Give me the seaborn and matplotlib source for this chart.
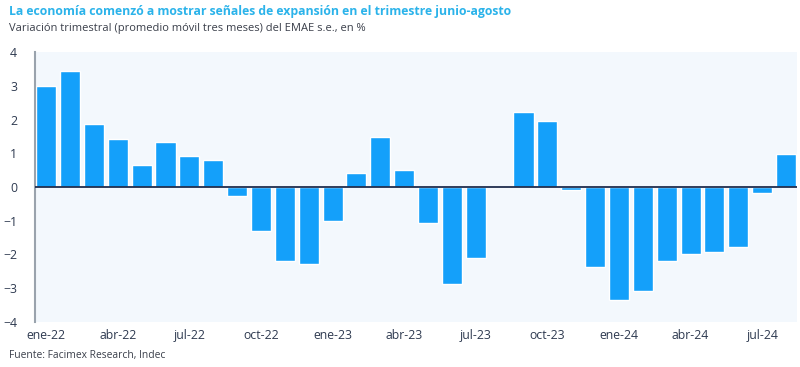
import pandas as pd
import seaborn as sns
import matplotlib.pyplot as plt

# Monthly data, ene-22 .. ago-24
meses = ["ene-22", "feb-22", "mar-22", "abr-22", "may-22", "jun-22", "jul-22", "ago-22",
         "sep-22", "oct-22", "nov-22", "dic-22", "ene-23", "feb-23", "mar-23", "abr-23",
         "may-23", "jun-23", "jul-23", "ago-23", "sep-23", "oct-23", "nov-23", "dic-23",
         "ene-24", "feb-24", "mar-24", "abr-24", "may-24", "jun-24", "jul-24", "ago-24"]
variacion = [2.99, 3.45, 1.88, 1.43, 0.64, 1.34, 0.91, 0.81,
             -0.26, -1.31, -2.2, -2.28, -1.01, 0.40, 1.49, 0.49,
             -1.07, -2.89, -2.11, 0.0, 2.22, 1.95, -0.1, -2.38,
             -3.35, -3.08, -2.2, -1.98, -1.94, -1.78, -0.19, 0.97]
tick_labels = ["ene-22", "abr-22", "jul-22", "oct-22", "ene-23", "abr-23",
               "jul-23", "oct-23", "ene-24", "abr-24", "jul-24"]

df = pd.DataFrame({"mes": meses, "var": variacion})

sns.set_style("white")
plt.rcParams["font.family"] = ["Open Sans", "DejaVu Sans"]

fig = plt.figure(figsize=(8, 3.67), dpi=100)
ax = fig.add_axes([0.044, 0.123, 0.952, 0.735])
ax.set_facecolor("#f3f8fd")

sns.barplot(data=df, x="mes", y="var", order=meses, color="#14a0fa",
            saturation=1, width=0.84, ax=ax)

ax.axhline(0, color="#1f2d4d", lw=1.3, zorder=3)
ax.set_ylim(-4, 4)
ax.set_yticks(range(-4, 5))
ax.set_xlim(-0.46, 31.45)
ax.set_xticks(range(0, 32, 3))
ax.set_xticklabels(tick_labels)
ax.tick_params(axis="both", length=0, labelsize=8.8, colors="#2e3a50")
ax.tick_params(axis="y", pad=13)
ax.tick_params(axis="x", pad=5)
ax.set_xlabel("")
ax.set_ylabel("")

for s in ["top", "right", "bottom"]:
    ax.spines[s].set_visible(False)
ax.spines["left"].set_color("#9aa3ad")
ax.spines["left"].set_linewidth(1.5)

fig.text(0.011, 0.968, "La economía comenzó a mostrar señales de expansión en el trimestre junio-agosto",
         fontsize=8.8, fontweight="bold", color="#2bb3ea", va="center")
fig.text(0.011, 0.922, "Variación trimestral (promedio móvil tres meses) del EMAE s.e., en %",
         fontsize=8.0, color="#3a3f4a", va="center")
fig.text(0.011, 0.032, "Fuente: Facimex Research, Indec",
         fontsize=7.4, color="#3a3f4a", va="center")

fig.savefig("out.png", dpi=100)
